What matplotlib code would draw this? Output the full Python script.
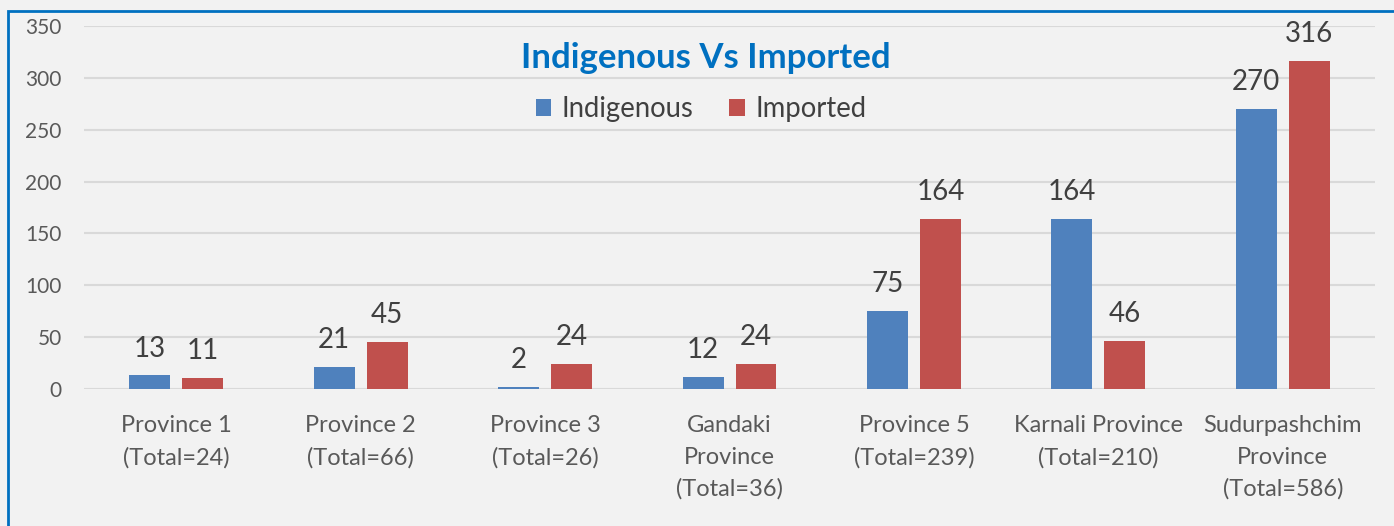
import numpy as np
import matplotlib.pyplot as plt
from matplotlib.patches import Rectangle

categories = ['Province 1\n(Total=24)', 'Province 2\n(Total=66)', 'Province 3\n(Total=26)',
              'Gandaki\nProvince\n(Total=36)', 'Province 5\n(Total=239)',
              'Karnali Province\n(Total=210)', 'Sudurpashchim\nProvince\n(Total=586)']
indigenous = [13, 21, 2, 12, 75, 164, 270]
imported = [11, 45, 24, 24, 164, 46, 316]
yticks = [0, 50, 100, 150, 200, 250, 300, 350]

plt.rcParams['font.family'] = ['Lato', 'DejaVu Sans']

fig = plt.figure(figsize=(13.94, 5.26), dpi=100, facecolor='#F2F2F2')
ax = fig.add_axes([0.0603, 0.2605, 0.9261, 0.6901])
ax.set_facecolor('#F2F2F2')

# blue frame around the chart area
fig.patches.append(Rectangle((8 / 1394, -0.1), 1.2, 1 - 11 / 526 + 0.1, transform=fig.transFigure,
                             fill=False, edgecolor='#0070C0', linewidth=2))

x = np.arange(len(categories))
w = 0.222
off = 0.1435
b1 = ax.bar(x - off, indigenous, w, color='#4F81BD', label='Indigenous')
b2 = ax.bar(x + off, imported, w, color='#C0504D', label='Imported')

for bars in (b1, b2):
    ax.bar_label(bars, padding=10, fontsize=20, color='#404040')

ax.set_xlim(-0.5, len(categories) - 0.5)
ax.set_ylim(0, 350)
ax.set_yticks(yticks)
ax.set_xticks(x)
ax.set_xticklabels(categories, fontsize=17, color='#595959', linespacing=1.6)
ax.tick_params(axis='y', labelsize=15, labelcolor='#595959', length=0, pad=16)
ax.tick_params(axis='x', length=0, pad=19)
ax.grid(axis='y', color='#D9D9D9', linewidth=1.5)
ax.set_axisbelow(True)
for s in ax.spines.values():
    s.set_visible(False)

ax.set_title('Indigenous Vs Imported', fontsize=25, fontweight='bold', color='#0070C0',
             x=0.482, y=0.86)
ax.legend(loc='upper center', bbox_to_anchor=(0.478, 0.875), ncol=2, frameon=False,
          fontsize=19.8, labelcolor='#404040', handlelength=0.55, handleheight=0.55,
          columnspacing=1.3, handletextpad=0.4)

fig.savefig('out.png', dpi=100, facecolor=fig.get_facecolor())
